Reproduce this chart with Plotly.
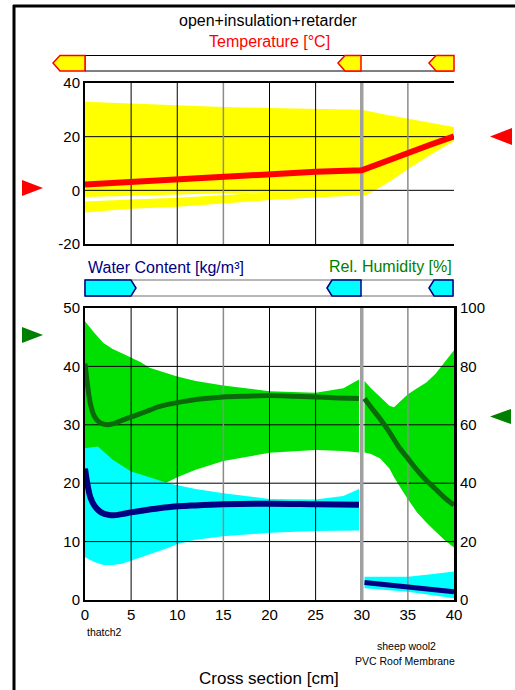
import plotly.graph_objects as go

W, H = 515, 690

# ---------------- data ----------------
x_range = [0, 40]
temp_range = [-20, 40]
wc_range = [0, 50]
rh_range = [0, 100]

temp_ticks = [-20, 0, 20, 40]
temp_tick_labels = ["-20", "0", "20", "40"]
wc_ticks = [0, 10, 20, 30, 40, 50]
rh_ticks = [0, 20, 40, 60, 80, 100]
x_ticks = [0, 5, 10, 15, 20, 25, 30, 35, 40]

grid_x_black = [5, 10, 20, 25]
grid_x_gray = [15, 35]
layer_bounds = [30]
temp_grid_y = [0, 20]
wc_grid_y = [10, 20, 30, 40]

# Temperature [°C]
temp_x = [0, 5, 10, 15, 20, 25, 30, 32.5, 35, 37.5, 40]
temp_mean = [2.2, 3.2, 4.2, 5.1, 6.1, 6.9, 7.5, 10.8, 14.0, 17.1, 20.1]
temp_max = [33.0, 32.3, 31.7, 31.1, 30.7, 30.3, 30.0, 28.3, 26.7, 25.1, 23.6]
temp_min_x = [0, 5, 10, 15, 20, 25, 30, 30.5, 33, 35, 37.5, 40]
temp_min = [-8.3, -6.9, -6.1, -4.9, -3.6, -2.7, -1.8, -1.8, 3.2, 7.9, 13.4, 18.4]
gap_x = [0, 5, 10, 15, 19.5]
gap_top = [-2.5, -2.0, -1.6, -1.1, -0.9]
gap_bottom = [-4.2, -3.4, -2.8, -1.8, -0.9]

# Relative humidity [%]
rh_l_x = [0, 1, 2, 3, 4, 5, 6, 7, 8, 8.7, 10, 12, 15, 20, 25, 28, 29.7]
rh_l_max = [95.5, 91.5, 88, 86, 84.5, 83, 81.5, 79.5, 78.5, 78, 76.5, 75, 73.5, 71.5, 71, 72.5, 75.5]
rh_l_min = [40, 40, 40, 40, 40, 40, 40, 40, 40, 40, 42, 44.6, 47.6, 50.4, 51.4, 51, 50.5]
rh_r_x = [30.3, 31, 32, 33, 33.5, 34, 35, 36, 37, 38, 39, 40]
rh_r_max = [75, 72.5, 69.5, 66.5, 66, 67.5, 70.5, 72.5, 74.5, 77.5, 81.5, 85.5]
rh_r_min = [50.5, 50, 48.5, 45, 42, 39.5, 34.5, 30, 26.5, 23.5, 20.5, 18]

rh_line_l_x = [0, 0.3, 0.6, 1, 1.5, 2, 2.5, 3, 4, 5, 6, 7, 8, 9, 10, 12.5, 15, 17.5, 20, 22.5, 25, 27.5, 29.7]
rh_line_l = [81, 73, 67, 63, 61, 60.2, 60, 60.3, 61.5, 62.7, 63.8, 65, 66.2, 67, 67.6, 68.8, 69.5, 69.8, 70, 69.8, 69.5, 69.2, 69]
rh_line_r_x = [30.3, 31, 32, 33, 34, 35, 36, 37, 38, 39, 40]
rh_line_r = [69, 66, 62, 57.5, 52.5, 48.5, 44.5, 41, 38, 35, 32.5]

# Water content [kg/m3]
wc_up_l_x = [0, 1.4, 3, 5, 7, 9, 12, 15, 20, 25, 28, 29.7]
wc_up_l = [26, 26.3, 24, 22, 21, 20, 19, 18.3, 17.3, 17.2, 17.8, 19]
wc_lo_l_x = [0, 1, 2, 3, 4, 5, 7, 9, 10, 12, 15, 20, 25, 29.7]
wc_lo_l = [7.3, 6.5, 6.0, 6.0, 6.2, 6.8, 7.8, 8.9, 9.6, 10.3, 10.9, 11.5, 11.8, 11.9]
wc_r_x = [30.3, 32, 35, 37.5, 40]
wc_up_r = [4.0, 4.0, 4.0, 4.4, 4.9]
wc_lo_r = [2.0, 1.8, 1.4, 0.9, 0.3]

wc_line_l_x = [0, 0.3, 0.6, 1, 1.5, 2, 2.5, 3, 4, 5, 7, 9, 12, 15, 20, 25, 29.7]
wc_line_l = [22.5, 19.5, 17.5, 16.2, 15.3, 14.8, 14.6, 14.5, 14.7, 15.0, 15.5, 15.9, 16.2, 16.4, 16.5, 16.4, 16.3]
wc_line_r_x = [30.3, 35, 40]
wc_line_r = [3.0, 2.2, 1.4]

# ---------------- colours ----------------
YELLOW = "#FFFF00"
RED = "#FF0000"
GREEN_FILL = "#00E000"
GREEN_LINE = "#0A6A0A"
CYAN = "#00FFFF"
NAVY = "#000080"
TXT_GREEN = "#008000"

FONT = "Liberation Sans, Arial, sans-serif"


def poly(xu, yu, xl, yl):
    return list(xu) + list(xl)[::-1], list(yu) + list(yl)[::-1]


def vseg(xs, yr):
    X, Y = [], []
    for x in xs:
        X += [x, x, None]
        Y += [yr[0], yr[1], None]
    return X, Y


def hseg(ys, xr):
    X, Y = [], []
    for y in ys:
        X += [xr[0], xr[1], None]
        Y += [y, y, None]
    return X, Y


fig = go.Figure()

# ---- top plot: temperature ----
px_, py_ = poly(temp_x, temp_max, temp_min_x, temp_min)
fig.add_trace(go.Scatter(x=px_, y=py_, fill="toself", fillcolor=YELLOW, line=dict(width=0),
                         mode="lines", xaxis="x", yaxis="y", hoverinfo="skip"))
px_, py_ = poly(gap_x, gap_top, gap_x, gap_bottom)
fig.add_trace(go.Scatter(x=px_, y=py_, fill="toself", fillcolor="white", line=dict(width=0),
                         mode="lines", xaxis="x", yaxis="y", hoverinfo="skip"))

# ---- bottom plot fills ----
px_, py_ = poly(rh_l_x, rh_l_max, rh_l_x, rh_l_min)
fig.add_trace(go.Scatter(x=px_, y=py_, fill="toself", fillcolor=GREEN_FILL, line=dict(width=0),
                         mode="lines", xaxis="x2", yaxis="y3", hoverinfo="skip"))
px_, py_ = poly(rh_r_x, rh_r_max, rh_r_x, rh_r_min)
fig.add_trace(go.Scatter(x=px_, y=py_, fill="toself", fillcolor=GREEN_FILL, line=dict(width=0),
                         mode="lines", xaxis="x2", yaxis="y3", hoverinfo="skip"))
px_, py_ = poly(wc_up_l_x, wc_up_l, wc_lo_l_x, wc_lo_l)
fig.add_trace(go.Scatter(x=px_, y=py_, fill="toself", fillcolor=CYAN, line=dict(width=0),
                         mode="lines", xaxis="x2", yaxis="y4", hoverinfo="skip"))
px_, py_ = poly(wc_r_x, wc_up_r, wc_r_x, wc_lo_r)
fig.add_trace(go.Scatter(x=px_, y=py_, fill="toself", fillcolor=CYAN, line=dict(width=0),
                         mode="lines", xaxis="x2", yaxis="y4", hoverinfo="skip"))

# ---- grids ----
for xa, ya, yr, gy in (("x", "y", temp_range, temp_grid_y), ("x2", "y4", wc_range, wc_grid_y)):
    gx, gyy = hseg(gy, x_range)
    fig.add_trace(go.Scatter(x=gx, y=gyy, mode="lines", line=dict(color="black", width=1),
                             xaxis=xa, yaxis=ya, hoverinfo="skip"))
    gx, gyy = vseg(grid_x_black, yr)
    fig.add_trace(go.Scatter(x=gx, y=gyy, mode="lines", line=dict(color="black", width=1),
                             xaxis=xa, yaxis=ya, hoverinfo="skip"))
    gx, gyy = vseg(grid_x_gray, yr)
    fig.add_trace(go.Scatter(x=gx, y=gyy, mode="lines", line=dict(color="#8C8C8C", width=1.5),
                             xaxis=xa, yaxis=ya, hoverinfo="skip"))
    gx, gyy = vseg(layer_bounds, yr)
    fig.add_trace(go.Scatter(x=gx, y=gyy, mode="lines", line=dict(color="#A0A0A0", width=3.5),
                             xaxis=xa, yaxis=ya, hoverinfo="skip"))

# ---- lines ----
fig.add_trace(go.Scatter(x=temp_x, y=temp_mean, mode="lines", line=dict(color=RED, width=6),
                         xaxis="x", yaxis="y", hoverinfo="skip"))
fig.add_trace(go.Scatter(x=wc_line_l_x, y=wc_line_l, mode="lines", line=dict(color=NAVY, width=6, shape="spline"),
                         xaxis="x2", yaxis="y4", hoverinfo="skip"))
fig.add_trace(go.Scatter(x=wc_line_r_x, y=wc_line_r, mode="lines", line=dict(color=NAVY, width=5),
                         xaxis="x2", yaxis="y4", hoverinfo="skip"))
fig.add_trace(go.Scatter(x=rh_line_l_x, y=rh_line_l, mode="lines", line=dict(color=GREEN_LINE, width=5, shape="spline"),
                         xaxis="x2", yaxis="y5", hoverinfo="skip"))
fig.add_trace(go.Scatter(x=rh_line_r_x, y=rh_line_r, mode="lines", line=dict(color=GREEN_LINE, width=5, shape="spline"),
                         xaxis="x2", yaxis="y5", hoverinfo="skip"))

# ---------------- layout ----------------
xdom = [85 / W, 454 / W]
top_dom = [1 - 244 / H, 1 - 83 / H]
bot_dom = [1 - 600 / H, 1 - 308 / H]
tickfont = dict(family=FONT, size=15, color="black")
common = dict(showgrid=False, zeroline=False, automargin=False, ticks="", showline=True,
              linecolor="black", tickfont=tickfont)

fig.update_layout(
    template="none",
    width=W, height=H, margin=dict(l=0, r=0, t=0, b=0, pad=0), autosize=False,
    paper_bgcolor="white", plot_bgcolor="white", showlegend=False,
    font=dict(family=FONT),
    xaxis=dict(domain=xdom, range=x_range, anchor="y", showticklabels=False, linewidth=2,
               mirror=True, **common),
    yaxis=dict(domain=top_dom, range=temp_range, anchor="x", tickvals=temp_ticks,
               ticktext=temp_tick_labels, linewidth=2, **common),
    yaxis2=dict(domain=top_dom, range=temp_range, anchor="x", overlaying="y", side="right",
                tickvals=temp_ticks, ticktext=temp_tick_labels, linewidth=3, **common),
    xaxis2=dict(domain=xdom, range=x_range, anchor="y3", tickvals=x_ticks, linewidth=2,
                mirror=True, **common),
    yaxis3=dict(domain=bot_dom, range=rh_range, anchor="x2", side="right", tickvals=rh_ticks,
                linewidth=3, **common),
    yaxis4=dict(domain=bot_dom, range=wc_range, anchor="x2", overlaying="y3", side="left",
                tickvals=wc_ticks, linewidth=2, **common),
    yaxis5=dict(domain=bot_dom, range=rh_range, anchor="x2", overlaying="y3", visible=False,
                automargin=False),
)


def P(x, y):
    return x / W, 1 - y / H


def path(pts):
    s = ""
    for i, (x, y) in enumerate(pts):
        a, b = P(x, y)
        s += ("M" if i == 0 else "L") + f"{a:.5f},{b:.5f} "
    return s + "Z"


shapes = []
# outer frame
shapes.append(dict(type="line", xref="paper", yref="paper", x0=14 / W, x1=14 / W, y0=P(0, 5)[1], y1=P(0, 690)[1],
                   line=dict(color="black", width=3)))
shapes.append(dict(type="line", xref="paper", yref="paper", x0=13 / W, x1=1, y0=P(0, 6)[1], y1=P(0, 6)[1],
                   line=dict(color="black", width=3)))

# temperature bar
x0, y0 = P(85, 55.5)
x1, y1 = P(453, 71)
shapes.append(dict(type="rect", xref="paper", yref="paper", x0=x0, x1=x1, y0=y1, y1=y0,
                   line=dict(color="black", width=1), fillcolor="white"))
for a, b in ((53, 85), (338, 361), (429, 454)):
    shapes.append(dict(type="path", xref="paper", yref="paper",
                       path=path([(a, 63), (a + 7, 55.5), (b, 55.5), (b, 71), (a + 7, 71)]),
                       fillcolor=YELLOW, line=dict(color=RED, width=1.5)))

# water content bar
x0, y0 = P(85, 280)
x1, y1 = P(453, 296)
shapes.append(dict(type="rect", xref="paper", yref="paper", x0=x0, x1=x1, y0=y1, y1=y0,
                   line=dict(color="#707070", width=1), fillcolor="white"))
shapes.append(dict(type="path", xref="paper", yref="paper",
                   path=path([(85, 280), (131, 280), (136, 288), (131, 296), (85, 296)]),
                   fillcolor=CYAN, line=dict(color=NAVY, width=1.5)))
for a, b in ((327, 361), (429, 453)):
    shapes.append(dict(type="path", xref="paper", yref="paper",
                       path=path([(a, 288), (a + 5, 280), (b, 280), (b, 296), (a + 5, 296)]),
                       fillcolor=CYAN, line=dict(color=NAVY, width=1.5)))

# boundary triangles
shapes.append(dict(type="path", xref="paper", yref="paper", path=path([(22, 180), (43, 188), (22, 196)]),
                   fillcolor=RED, line=dict(width=0)))
shapes.append(dict(type="path", xref="paper", yref="paper", path=path([(512, 128), (490, 136.5), (512, 145)]),
                   fillcolor=RED, line=dict(width=0)))
shapes.append(dict(type="path", xref="paper", yref="paper", path=path([(22, 327), (43, 335), (22, 343)]),
                   fillcolor="#008000", line=dict(width=0)))
shapes.append(dict(type="path", xref="paper", yref="paper", path=path([(511, 409), (490, 416.5), (511, 424)]),
                   fillcolor="#008000", line=dict(width=0)))
fig.update_layout(shapes=shapes)


def ann(text, x, y, size, color="black", xanchor="center"):
    a, b = P(x, y)
    fig.add_annotation(text=text, x=a, y=b, xref="paper", yref="paper", showarrow=False,
                       xanchor=xanchor, yanchor="middle", font=dict(family=FONT, size=size, color=color))


ann("open+insulation+retarder", 268, 20, 16)
ann("Temperature [°C]", 269, 42, 16, RED)
ann("Water Content [kg/m³]", 86, 267, 16, NAVY, "left")
ann("Rel. Humidity [%]", 454, 266, 16, TXT_GREEN, "right")
ann("thatch2", 85, 632, 10.5, xanchor="left")
ann("sheep wool2", 406, 646, 10.5)
ann("PVC Roof Membrane", 405, 661, 10.5)
ann("Cross section [cm]", 269, 678, 17)

fig.write_html(
    "out.html",
    config={"displayModeBar": False},
    post_script="document.body.style.margin='0px';document.body.style.overflow='hidden';",
)
